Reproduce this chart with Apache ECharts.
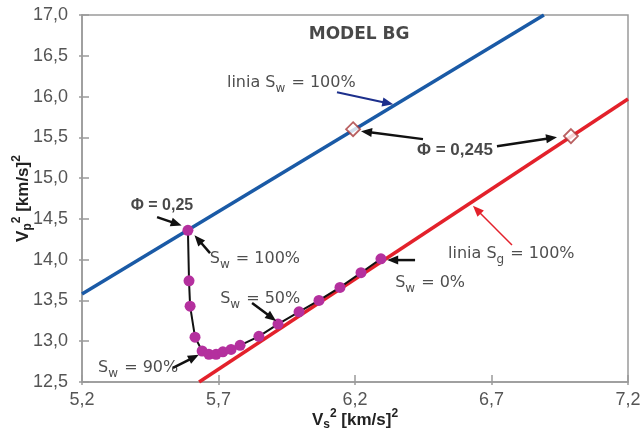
<!DOCTYPE html>
<html><head><meta charset="utf-8">
<script src="https://cdn.jsdelivr.net/npm/echarts@6/dist/echarts.min.js"></script>
<style>html,body{margin:0;padding:0;background:#fff}#c{width:641px;height:434px}</style>
</head><body><div id="c"></div>
<script>
// ---- data ----
const xTicks = [5.2, 5.7, 6.2, 6.7, 7.2];
const curveVs2 = [5.588, 5.592, 5.596, 5.614, 5.640, 5.665, 5.691, 5.716, 5.746, 5.779, 5.848, 5.918, 5.995, 6.068, 6.145, 6.222, 6.295];
const curveVp2 = [14.36, 13.74, 13.43, 13.05, 12.88, 12.84, 12.84, 12.87, 12.90, 12.95, 13.06, 13.21, 13.36, 13.50, 13.66, 13.84, 14.01];
const swLineVs2 = [5.2, 6.892];
const swLineVp2 = [13.58, 17.0];
const sgLineVs2 = [5.629, 7.2];
const sgLineVp2 = [12.5, 15.97];
const phiVs2 = [6.193, 6.991];
const phiVp2 = [15.60, 15.515];

// annotation arrows: [fromX, fromY, toX, toY] (data coords)
const arrowFrom = [[6.134, 16.054], [6.449, 15.478], [6.720, 15.392], [5.475, 14.522], [5.669, 14.081], [5.823, 13.468], [5.533, 12.672], [6.420, 13.995], [6.775, 14.179]];
const arrowTo   = [[6.340, 15.905], [6.222, 15.576], [6.940, 15.502], [5.565, 14.418], [5.612, 14.300], [5.911, 13.248], [5.628, 12.835], [6.318, 13.995], [6.632, 14.660]];
const arrowColor = ['#1c2f8c', '#111', '#111', '#111', '#111', '#111', '#111', '#111', '#e3212b'];
const arrowWidth = [2, 2.5, 2.5, 2.5, 2.5, 2.5, 2.5, 2.5, 1.5];

// text labels
const labelPos = [[6.215, 16.765], [5.731, 16.152], [6.566, 15.343], [5.493, 14.669], [5.668, 13.996], [5.706, 13.505], [5.259, 12.660], [6.347, 13.701], [6.541, 14.057]];
const labelText = ['{b|MODEL BG}', '{n|linia S}{s|w}{n| = 100%}', '{p|Φ = 0,245}', '{q|Φ = 0,25}',
  '{n|S}{s|w}{n| = 100%}', '{n|S}{s|w}{n| = 50%}', '{n|S}{s|w}{n| = 90%}', '{n|S}{s|w}{n| = 0%}', '{n|linia S}{s|g}{n| = 100%}'];
const labelPlace = ['inside', 'right', 'inside', 'inside', 'right', 'right', 'right', 'right', 'right'];

const fmt = v => v.toFixed(1).replace('.', ',');
const zip = (a, b) => a.map((v, i) => [v, b[i]]);
const narrow = "'Liberation Sans Narrow','Arial Narrow','Liberation Sans',sans-serif";
const rich = {
  n: {fontFamily: 'DejaVu Sans', fontSize: 16, color: '#222', lineHeight: 19, verticalAlign: 'top'},
  s: {fontFamily: 'DejaVu Sans', fontSize: 12, color: '#222', lineHeight: 13, verticalAlign: 'top', padding: [8, 1, 0, 0]},
  b: {fontFamily: 'DejaVu Sans', fontSize: 17, fontWeight: 'bold', color: '#1a1a1a'},
  p: {fontFamily: narrow, fontSize: 17, fontWeight: 'bold', color: '#1a1a1a'},
  q: {fontFamily: narrow, fontSize: 16, fontWeight: 'bold', color: '#1a1a1a'}
};
const titleRich = {
  t: {fontFamily: 'Liberation Sans', fontSize: 17, fontWeight: 'bold', color: '#222', lineHeight: 22, verticalAlign: 'top', padding: [4, 0, 0, 0]},
  sub: {fontFamily: 'Liberation Sans', fontSize: 12, fontWeight: 'bold', color: '#222', lineHeight: 14, verticalAlign: 'top', padding: [11, 0, 0, 0]},
  sup: {fontFamily: 'Liberation Sans', fontSize: 12, fontWeight: 'bold', color: '#222', lineHeight: 14, verticalAlign: 'top', padding: [0, 0, 0, 0]}
};

const axisCommon = {
  type: 'value', splitLine: {show: false},
  axisLine: {show: true, lineStyle: {color: '#9a9a9a', width: 1.5}}
};

function renderArrow(params, api) {
  const i = params.dataIndex;
  const p1 = api.coord([api.value(0), api.value(1)]);
  const p2 = api.coord([api.value(2), api.value(3)]);
  const dx = p2[0] - p1[0], dy = p2[1] - p1[1];
  const len = Math.sqrt(dx * dx + dy * dy) || 1;
  const ux = dx / len, uy = dy / len;
  const hl = 11, hw = 4.5;
  const bx = p2[0] - ux * hl, by = p2[1] - uy * hl;
  const color = arrowColor[i];
  return {
    type: 'group',
    children: [
      {type: 'line', shape: {x1: p1[0], y1: p1[1], x2: bx + ux * 2, y2: by + uy * 2}, style: {stroke: color, lineWidth: arrowWidth[i]}},
      {type: 'polygon', shape: {points: [[p2[0], p2[1]], [bx - uy * hw, by + ux * hw], [bx + uy * hw, by - ux * hw]]}, style: {fill: color}}
    ]
  };
}

const chart = echarts.init(document.getElementById('c'), null, {renderer: 'canvas'});
chart.setOption({
  animation: false,
  grid: {left: 82, right: 13, top: 15, bottom: 52, show: true, borderColor: '#9a9a9a', borderWidth: 1.5,
    containLabel: false, outerBoundsMode: 'none'},
  xAxis: [
    Object.assign({}, axisCommon, {
      min: 5.2, max: 7.2, position: 'bottom',
      name: '{t|V}{sub|s}{sup|2}{t| [km/s]}{sup|2}', nameLocation: 'middle', nameGap: 26, nameMoveOverlap: false,
      nameTextStyle: {rich: titleRich},
      axisTick: {show: true, inside: true, length: 7, customValues: xTicks, lineStyle: {color: '#9a9a9a', width: 1.5}},
      axisLabel: {customValues: xTicks, formatter: fmt, margin: 9, fontFamily: narrow, fontSize: 18, color: '#555'}
    }),
    Object.assign({}, axisCommon, {
      min: 5.2, max: 7.2, position: 'bottom', axisLine: {show: false},
      axisTick: {show: true, inside: false, length: 3, customValues: xTicks, lineStyle: {color: '#9a9a9a', width: 1.5}},
      axisLabel: {show: false}
    })
  ],
  yAxis: [
    Object.assign({}, axisCommon, {
      min: 12.5, max: 17.0, interval: 0.5, position: 'left',
      name: '{t|V}{sub|p}{sup|2}{t| [km/s]}{sup|2}', nameLocation: 'middle', nameGap: 49, nameRotate: 90, nameMoveOverlap: false,
      nameTextStyle: {rich: titleRich},
      axisTick: {show: true, inside: true, length: 7, lineStyle: {color: '#9a9a9a', width: 1.5}},
      axisLabel: {formatter: fmt, margin: 14, fontFamily: narrow, fontSize: 18, color: '#555'}
    }),
    Object.assign({}, axisCommon, {
      min: 12.5, max: 17.0, interval: 0.5, position: 'left', axisLine: {show: false},
      axisTick: {show: true, inside: false, length: 3, lineStyle: {color: '#9a9a9a', width: 1.5}},
      axisLabel: {show: false}
    })
  ],
  series: [
    {type: 'line', name: 'Sw100', data: zip(swLineVs2, swLineVp2), symbol: 'none', lineStyle: {color: '#1a5aa6', width: 3.5}, clip: true, z: 2},
    {type: 'line', name: 'Sg100', data: zip(sgLineVs2, sgLineVp2), symbol: 'none', lineStyle: {color: '#e3212b', width: 3.5}, clip: true, z: 2},
    {type: 'line', name: 'model', data: zip(curveVs2, curveVp2), symbol: 'circle', symbolSize: 11,
      lineStyle: {color: '#111', width: 2}, itemStyle: {color: '#b4309e', borderWidth: 0}, z: 3},
    {type: 'scatter', name: 'phi', data: zip(phiVs2, phiVp2), symbol: 'diamond', symbolSize: 14,
      itemStyle: {color: '#fff', borderColor: '#a8383a', borderWidth: 1.8}, z: 4},
    {type: 'custom', name: 'arrows', z: 5, silent: true, clip: false,
      data: arrowFrom.map((f, i) => [f[0], f[1], arrowTo[i][0], arrowTo[i][1]]),
      encode: {x: [0, 2], y: [1, 3]},
      renderItem: renderArrow},
    {type: 'scatter', name: 'ann', symbolSize: 0, z: 6, silent: true,
      data: labelPos.map((p, i) => ({value: p, label: {show: true, position: labelPlace[i], distance: 0, formatter: labelText[i], rich: rich}}))
    }
  ]
});
</script></body></html>
